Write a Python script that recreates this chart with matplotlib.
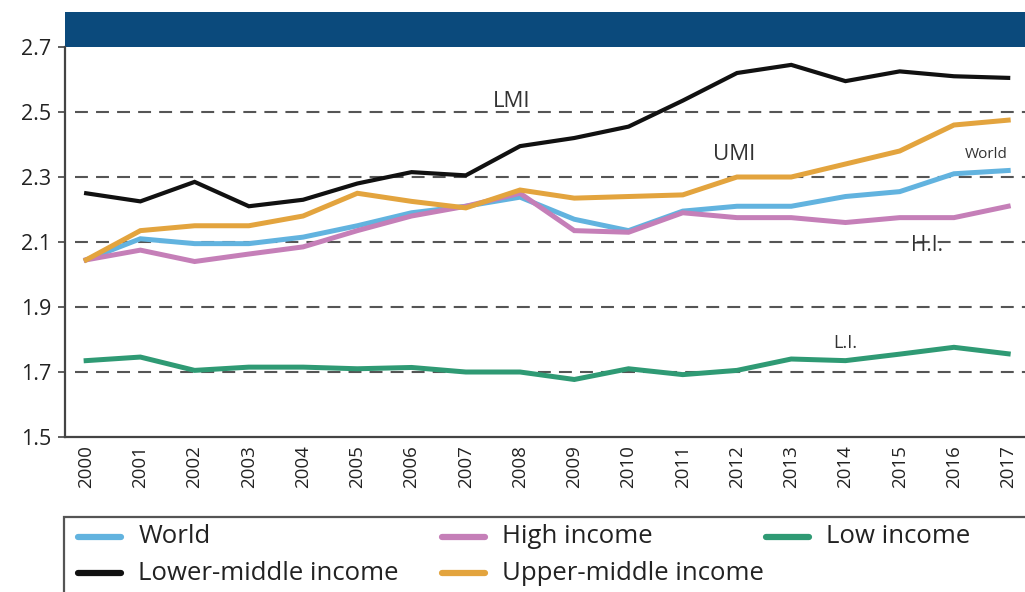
import matplotlib
matplotlib.use('Agg')
import matplotlib.pyplot as plt
from matplotlib.patches import Rectangle
from matplotlib.lines import Line2D

plt.rcParams['font.family'] = ['Open Sans', 'DejaVu Sans']

years = list(range(2000, 2018))
world = [2.045, 2.11, 2.095, 2.095, 2.115, 2.15, 2.19, 2.21, 2.238, 2.17, 2.135,
         2.195, 2.21, 2.21, 2.24, 2.255, 2.31, 2.32]
high_income = [2.045, 2.075, 2.04, 2.063, 2.085, 2.135, 2.18, 2.21, 2.25, 2.135, 2.13,
               2.19, 2.175, 2.175, 2.16, 2.175, 2.175, 2.21]
low_income = [1.735, 1.746, 1.705, 1.715, 1.715, 1.71, 1.714, 1.7, 1.7, 1.677, 1.71,
              1.692, 1.705, 1.74, 1.735, 1.755, 1.776, 1.756]
lower_middle = [2.25, 2.225, 2.285, 2.21, 2.23, 2.28, 2.315, 2.305, 2.395, 2.42, 2.455,
                2.535, 2.62, 2.645, 2.595, 2.625, 2.61, 2.605]
upper_middle = [2.045, 2.135, 2.15, 2.15, 2.18, 2.25, 2.225, 2.205, 2.26, 2.235, 2.24,
                2.245, 2.3, 2.3, 2.34, 2.38, 2.46, 2.475]

yticks = [1.5, 1.7, 1.9, 2.1, 2.3, 2.5, 2.7]
grid_levels = [1.7, 1.9, 2.1, 2.3, 2.5]

colors = {'World': '#62b3df', 'High income': '#c57fb8', 'Low income': '#2f9a74',
          'Lower-middle income': '#111111', 'Upper-middle income': '#e3a43e'}

fig = plt.figure(figsize=(10.25, 5.92), dpi=100)
ax = fig.add_axes([0.0634, 0.2618, 0.9366, 0.6588])

for g in grid_levels:
    ax.axhline(g, xmin=0.01, color='#555555', linewidth=1.5,
               linestyle=(0, (6.2, 3.9)), zorder=1)

series = [('World', world), ('High income', high_income), ('Low income', low_income),
          ('Lower-middle income', lower_middle), ('Upper-middle income', upper_middle)]
for name, vals in series:
    lw = 3.0 if name == 'Lower-middle income' else 3.6
    ax.plot(years, vals, color=colors[name], linewidth=lw, solid_joinstyle='miter', zorder=3)

ax.set_xlim(1999.61, 2017.31)
ax.set_ylim(1.5, 2.7)
ax.set_yticks(yticks)
ax.set_yticklabels([f'{t:.1f}' for t in yticks], fontsize=15.5, color='#222222')
ax.set_xticks(years)
ax.set_xticklabels([str(y) for y in years], rotation=90, fontsize=13.5, color='#222222')
ax.tick_params(axis='x', length=0, pad=6)
ax.tick_params(axis='y', length=5, width=1.2, color='#444444', pad=5)
for s in ['top', 'right']:
    ax.spines[s].set_visible(False)
for s in ['left', 'bottom']:
    ax.spines[s].set_color('#444444')
    ax.spines[s].set_linewidth(1.6)

# dark banner on top of plot area
ax.add_patch(Rectangle((0, 1.0), 1.0, 0.0897, transform=ax.transAxes,
                       facecolor='#0b4a7c', edgecolor='none', clip_on=False))

# series labels
ax.text(2007.85, 2.533, 'LMI', fontsize=16, color='#333333', ha='center', va='center')
ax.text(2011.95, 2.37, 'UMI', fontsize=16, color='#333333', ha='center', va='center')
ax.text(2016.6, 2.368, 'World', fontsize=11, color='#333333', ha='center', va='center')
ax.text(2015.5, 2.088, 'H.I.', fontsize=15, color='#333333', ha='center', va='center')
ax.text(2014.0, 1.79, 'L.I.', fontsize=13, color='#333333', ha='center', va='center')

# legend box
fig.patches.append(Rectangle((0.0625, -0.01), 0.95, 0.137, transform=fig.transFigure,
                             facecolor='none', edgecolor='#555555', linewidth=1.6))
legend_items = [('World', 0.074, 0.093), ('High income', 0.429, 0.093),
                ('Low income', 0.745, 0.093), ('Lower-middle income', 0.074, 0.032),
                ('Upper-middle income', 0.429, 0.032)]
for name, lx, ly in legend_items:
    fig.lines.append(Line2D([lx + 0.002, lx + 0.044], [ly, ly], transform=fig.transFigure,
                            color=colors[name], linewidth=4.5, solid_capstyle='round'))
    fig.text(lx + 0.061, ly, name, fontsize=18.5, color='#222222', va='center', ha='left')

plt.savefig('out.png', dpi=100, facecolor='white')
